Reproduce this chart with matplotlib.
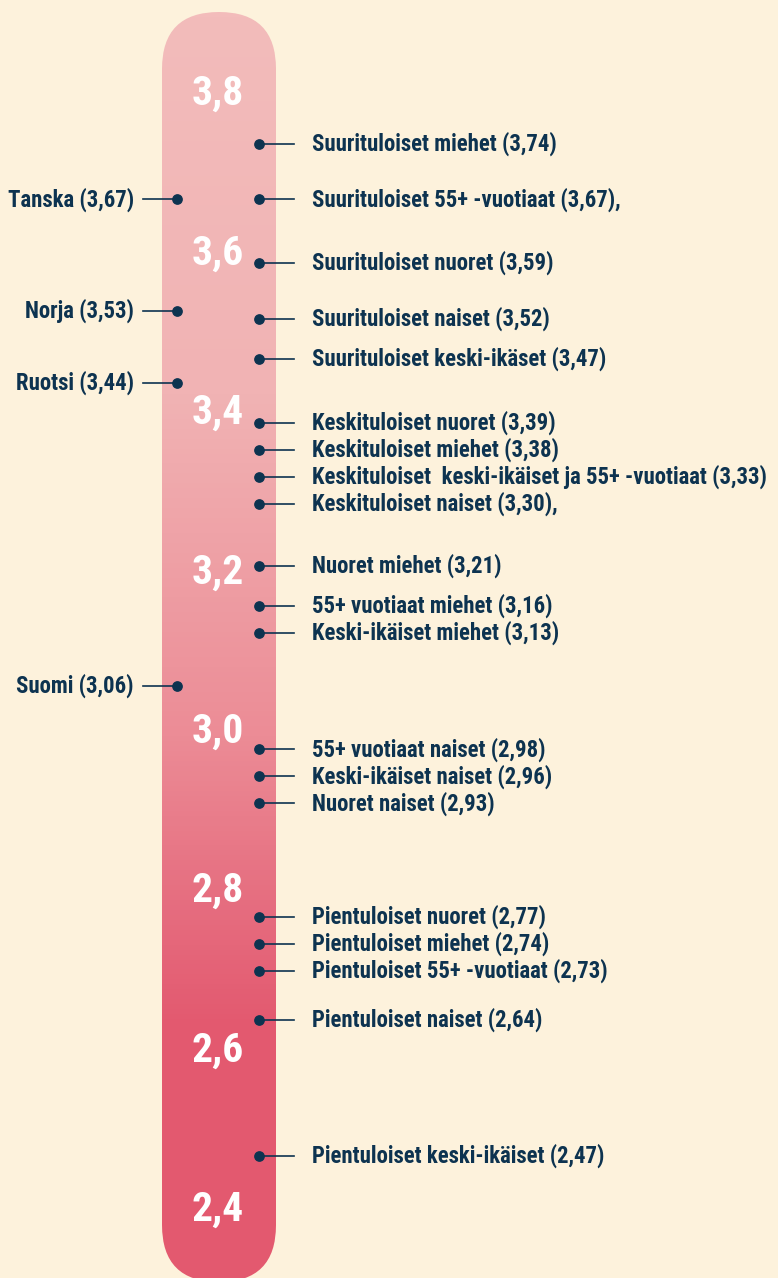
import numpy as np
import matplotlib.pyplot as plt
from matplotlib import font_manager
from matplotlib.patches import FancyBboxPatch
from matplotlib.colors import LinearSegmentedColormap

# right side groups
groups = ["Suurituloiset miehet", "Suurituloiset 55+ -vuotiaat", "Suurituloiset nuoret",
          "Suurituloiset naiset", "Suurituloiset keski-ikäset", "Keskituloiset nuoret",
          "Keskituloiset miehet", "Keskituloiset  keski-ikäiset ja 55+ -vuotiaat",
          "Keskituloiset naiset", "Nuoret miehet", "55+ vuotiaat miehet",
          "Keski-ikäiset miehet", "55+ vuotiaat naiset", "Keski-ikäiset naiset",
          "Nuoret naiset", "Pientuloiset nuoret", "Pientuloiset miehet",
          "Pientuloiset 55+ -vuotiaat", "Pientuloiset naiset", "Pientuloiset keski-ikäiset"]
group_vals = [3.74, 3.67, 3.59, 3.52, 3.47, 3.39, 3.38, 3.33, 3.30, 3.21, 3.16, 3.13,
              2.98, 2.96, 2.93, 2.77, 2.74, 2.73, 2.64, 2.47]
group_suffix = ["", ",", "", "", "", "", "", "", ",", "", "", "", "", "", "", "", "", "", "", ""]

# left side countries
countries = ["Tanska", "Norja", "Ruotsi", "Suomi"]
country_vals = [3.67, 3.53, 3.44, 3.06]

ticks = [3.8, 3.6, 3.4, 3.2, 3.0, 2.8, 2.6, 2.4]

bg = "#fdf2dc"
navy = "#0d3350"

# pick the narrowest bold font that is installed
family = "DejaVu Sans"
for cand in ["Roboto Condensed", "Open Sans Condensed", "Liberation Sans Narrow",
             "DejaVu Sans Condensed", "Roboto"]:
    try:
        font_manager.findfont(font_manager.FontProperties(family=cand, weight="bold"),
                              fallback_to_default=False)
        family = cand
        break
    except ValueError:
        pass
font = dict(family=family, fontweight="bold")


def spread(vals, gap):
    # push labels down so they don't overlap
    out = []
    for v in vals:
        if out and out[-1] - v < gap:
            v = out[-1] - gap
        out.append(v)
    return out


def fit_size(fig, s, width_px, size0):
    t = fig.text(0, 0, s, fontsize=size0, **font)
    w = t.get_window_extent(renderer=fig.canvas.get_renderer()).width
    t.remove()
    return size0 * width_px / w


fig = plt.figure(figsize=(7.78, 12.78), dpi=100, facecolor=bg)

lab_size = min(fit_size(fig, "Keskituloiset  keski-ikäiset ja 55+ -vuotiaat (3,33)", 460, 14), 17)
tick_size = min(fit_size(fig, "3,8", 52, 28), 30)

# background axes in pixel units for the gradient bar
bga = fig.add_axes([0, 0, 1, 1])
bga.set_xlim(0, 778)
bga.set_ylim(1278, 0)
bga.axis("off")
bar = FancyBboxPatch((162, 12), 114, 1270, boxstyle="round,pad=0,rounding_size=57",
                     facecolor="none", edgecolor="none")
bga.add_patch(bar)
cmap = LinearSegmentedColormap.from_list(
    "bar", [(0, "#f3bcbb"), (0.3, "#f1b3b4"), (0.57, "#ec8c96"), (0.7, "#e66e80"),
            (0.8, "#e3596f"), (1, "#e45a70")])
grad = np.linspace(0, 1, 256).reshape(-1, 1)
im = bga.imshow(grad, cmap=cmap, extent=(162, 276, 1282, 12), aspect="auto", zorder=1)
im.set_clip_path(bar)

# data axes
ax = fig.add_axes([0, 0, 1, 1], facecolor="none")
ax.set_xlim(0, 778)
ax.set_ylim(2.3166, 3.9202)
ax.axis("off")

for t in ticks:
    ax.text(218, t + 0.002, f"{t:.1f}".replace(".", ","), color="white", fontsize=tick_size,
            ha="center", va="center", zorder=3, **font)

ys = spread(group_vals, 0.034)
for name, v, y, suf in zip(groups, group_vals, ys, group_suffix):
    ax.plot([259, 294], [y, y], color=navy, lw=1.2, zorder=3)
    ax.scatter([259], [y], s=45, color=navy, zorder=4)
    ax.text(312, y, f"{name} ({v:.2f}){suf}".replace(".", ","), color=navy, fontsize=lab_size,
            ha="left", va="center", zorder=4, **font)

for name, v in zip(countries, country_vals):
    ax.plot([143, 177], [v, v], color=navy, lw=1.2, zorder=3)
    ax.scatter([177], [v], s=45, color=navy, zorder=4)
    ax.text(134, v, f"{name} ({v:.2f})".replace(".", ","), color=navy, fontsize=lab_size,
            ha="right", va="center", zorder=4, **font)

fig.savefig("out.png", dpi=100, facecolor=bg)
